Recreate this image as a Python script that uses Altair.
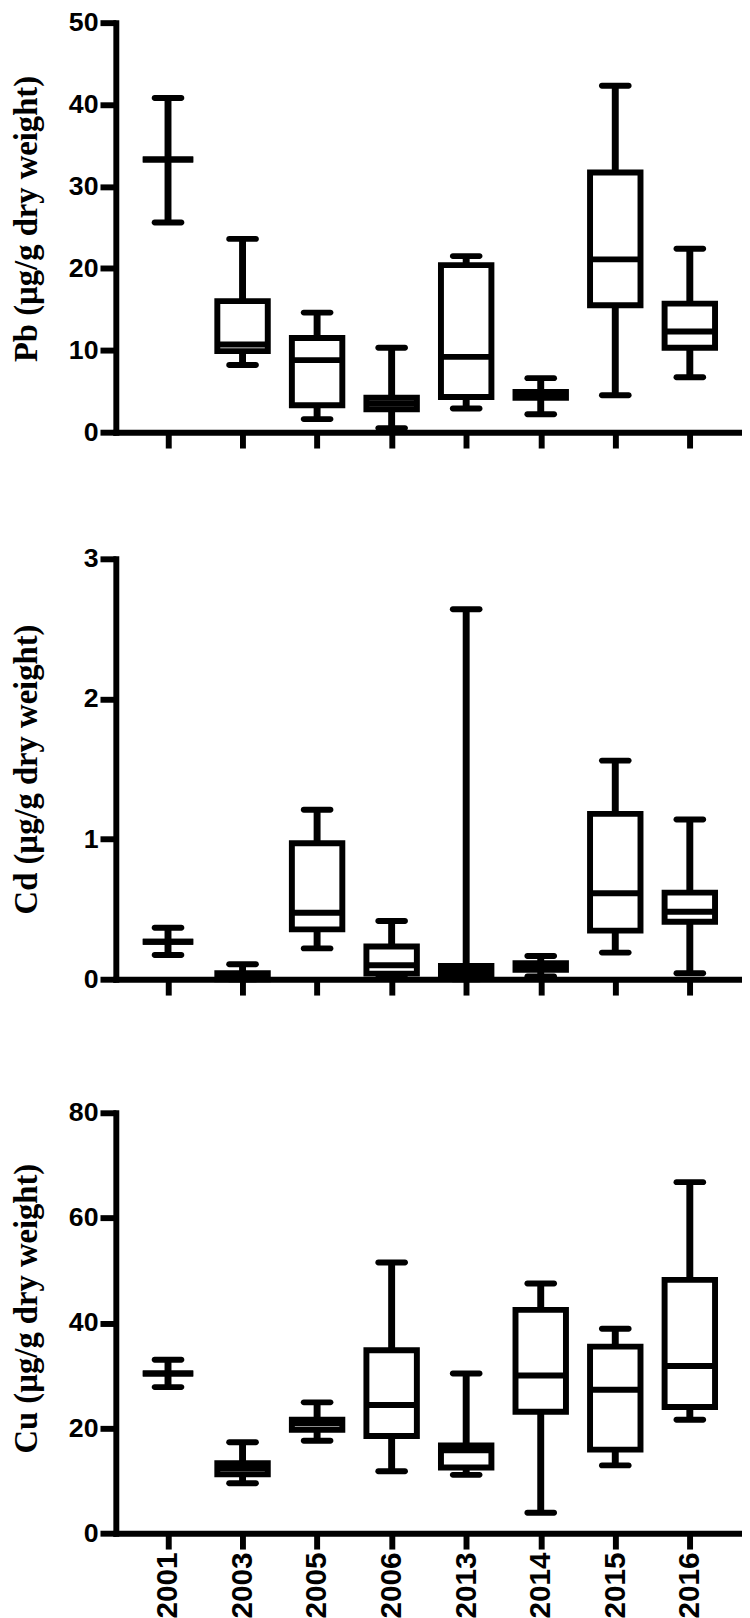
import altair as alt
import pandas as pd

years = ["2001", "2003", "2005", "2006", "2013", "2014", "2015", "2016"]

# Pb (µg/g dry weight)
pb_min = [25.6, 8.2, 1.6, 0.5, 2.9, 2.2, 4.5, 6.7]
pb_q1 = [33.3, 9.9, 3.3, 2.8, 4.3, 4.2, 15.5, 10.3]
pb_med = [33.3, 10.7, 8.8, 3.5, 9.2, 4.55, 21.1, 12.3]
pb_q3 = [33.3, 16.0, 11.5, 4.2, 20.4, 4.9, 31.7, 15.7]
pb_max = [40.8, 23.6, 14.6, 10.3, 21.5, 6.6, 42.3, 22.4]

# Cd (µg/g dry weight)
cd_min = [0.173, 0.0, 0.22, 0.01, 0.0, 0.02, 0.19, 0.043]
cd_q1 = [0.268, 0.0, 0.356, 0.04, 0.03, 0.067, 0.347, 0.41]
cd_med = [0.268, 0.02, 0.475, 0.10, 0.055, 0.09, 0.613, 0.482]
cd_q3 = [0.268, 0.043, 0.97, 0.233, 0.095, 0.114, 1.18, 0.618]
cd_max = [0.368, 0.107, 1.21, 0.415, 2.64, 0.166, 1.56, 1.14]

# Cu (µg/g dry weight)
cu_min = [27.8, 9.5, 17.6, 11.8, 11.1, 3.9, 12.9, 21.6]
cu_q1 = [30.4, 11.2, 19.7, 18.5, 12.5, 23.1, 15.9, 24.0]
cu_med = [30.4, 12.4, 20.9, 24.4, 15.8, 30.0, 27.3, 31.8]
cu_q3 = [30.4, 13.3, 21.6, 34.8, 16.7, 42.5, 35.5, 48.2]
cu_max = [33.0, 17.3, 24.9, 51.5, 30.4, 47.5, 38.9, 66.8]

NUM_FONT = "Liberation Sans"
TITLE_FONT = "Liberation Serif"
W = 633


def panel(mins, q1s, meds, q3s, maxs, ytitle, ymax, yticks, last, h, title_shift):
    df = pd.DataFrame({"year": years, "lo": mins, "q1": q1s, "med": meds,
                       "q3": q3s, "hi": maxs})
    xaxis = alt.Axis(title=None, labels=last, labelAngle=270, labelFont=NUM_FONT,
                     labelFontSize=30, labelFontWeight="bold", labelColor="black",
                     labelPadding=3, tickSize=16, tickWidth=6, tickColor="black",
                     domainWidth=6, domainColor="black", domainCap="square", grid=False)
    x = alt.X("year:N", sort=years, scale=alt.Scale(type="point", padding=0.7),
              axis=xaxis)
    yscale = alt.Scale(domain=[0, ymax], nice=False, zero=True)
    yaxis = alt.Axis(title=ytitle, values=yticks, format="d", grid=False,
                     labelFont=NUM_FONT, labelFontSize=27, labelFontWeight="bold",
                     labelColor="black", labelPadding=2, tickSize=16, tickWidth=6,
                     tickColor="black", domainWidth=6, domainColor="black",
                     domainCap="square", minExtent=69, maxExtent=69,
                     titlePadding=4, titleFont=TITLE_FONT, titleFontSize=33,
                     titleFontWeight="bold", titleColor="black",
                     titleY=h / 2 + title_shift)
    base = alt.Chart(df)
    whisk = base.mark_rule(color="black", strokeWidth=7, opacity=1).encode(
        x=x, y=alt.Y("lo:Q", scale=yscale, axis=yaxis), y2="hi:Q")
    box = base.mark_bar(fill="white", stroke="black", strokeWidth=6, size=51,
                        opacity=1).encode(
        x=x, y=alt.Y("q1:Q", scale=yscale, axis=yaxis), y2="q3:Q")
    med = base.mark_tick(color="black", size=51, thickness=6, opacity=1).encode(
        x=x, y=alt.Y("med:Q", scale=yscale, axis=yaxis))
    cap_lo = base.mark_tick(color="black", size=33, thickness=6, cornerRadius=3,
                            opacity=1).encode(
        x=x, y=alt.Y("lo:Q", scale=yscale, axis=yaxis))
    cap_hi = base.mark_tick(color="black", size=33, thickness=6, cornerRadius=3,
                            opacity=1).encode(
        x=x, y=alt.Y("hi:Q", scale=yscale, axis=yaxis))
    return alt.layer(whisk, box, med, cap_lo, cap_hi).properties(width=W, height=h)


p1 = panel(pb_min, pb_q1, pb_med, pb_q3, pb_max, "Pb (µg/g dry weight)", 50,
           [0, 10, 20, 30, 40, 50], False, 414, -9)
p2 = panel(cd_min, cd_q1, cd_med, cd_q3, cd_max, "Cd (µg/g dry weight)", 3,
           [0, 1, 2, 3], False, 425, 0)
p3 = panel(cu_min, cu_q1, cu_med, cu_q3, cu_max, "Cu (µg/g dry weight)", 80,
           [0, 20, 40, 60, 80], True, 425, -15)

top_two = alt.vconcat(p1, p2, spacing=95)
chart = alt.vconcat(top_two, p3, spacing=102).properties(
    padding={"left": 3, "top": -8, "right": 0, "bottom": 0}, background="white"
).configure_view(stroke=None)

chart.save("out.html", embed_options={"renderer": "svg", "actions": False})
